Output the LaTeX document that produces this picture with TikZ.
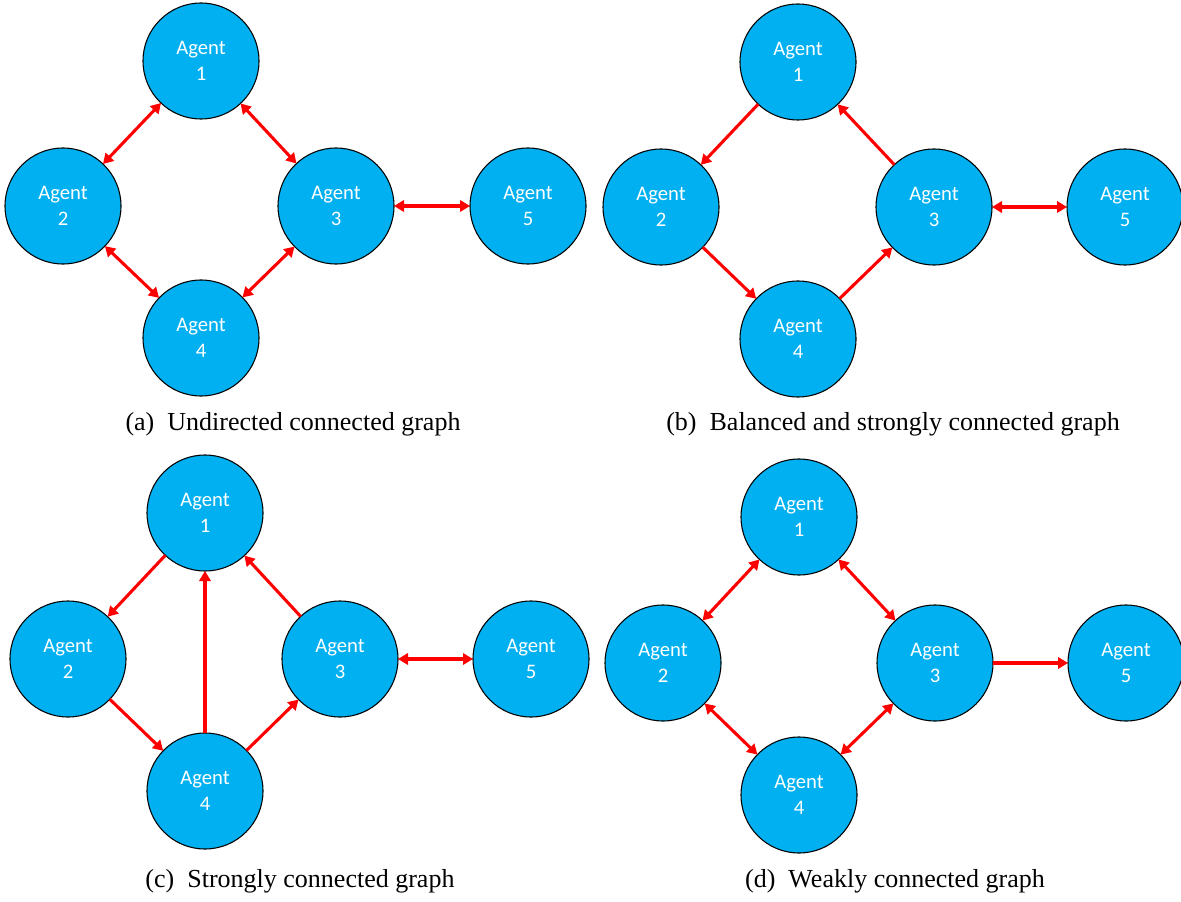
\documentclass[tikz,border=0pt]{standalone}
\usepackage{fontspec}
\setmainfont{Liberation Serif}
\newfontfamily\agentfont{Carlito}
\usetikzlibrary{arrows.meta}
\definecolor{agentblue}{HTML}{00B0F0}
\definecolor{edgered}{HTML}{FF0000}
\tikzset{
  agent/.style={circle,draw=black,line width=0.8pt,fill=agentblue,minimum size=87pt,inner sep=0pt,outer sep=0pt,
    text=white,font=\agentfont\fontsize{15.5pt}{19pt}\selectfont,align=center},
  edge/.style={draw=edgered,line width=2.3pt},
  one/.style={edge,-{Triangle[length=7.5pt,width=8.5pt]}},
  two/.style={edge,{Triangle[length=7.5pt,width=8.5pt]}-{Triangle[length=7.5pt,width=8.5pt]}},
  captext/.style={font=\fontsize{19.5pt}{22pt}\selectfont,inner sep=0pt}
}
\begin{document}
\begin{tikzpicture}[x=0.75pt,y=-0.75pt]
\useasboundingbox (0,0) rectangle (1181,902);
% panel a
\node[agent] (a1) at (201,61) {Agent\\1};
\node[agent] (a2) at (63,206) {Agent\\2};
\node[agent] (a3) at (336,206) {Agent\\3};
\node[agent] (a4) at (201,338) {Agent\\4};
\node[agent] (a5) at (528,206) {Agent\\5};
\draw[two] (a1) -- (a2);
\draw[two] (a1) -- (a3);
\draw[two] (a2) -- (a4);
\draw[two] (a3) -- (a4);
\draw[two] (a3) -- (a5);
\node[captext] (ca) at (293,424) {(a)\hspace{0.5em}Undirected connected graph};
% panel b
\node[agent] (b1) at (798,62) {Agent\\1};
\node[agent] (b2) at (661,207) {Agent\\2};
\node[agent] (b3) at (934,207) {Agent\\3};
\node[agent] (b4) at (798,339) {Agent\\4};
\node[agent] (b5) at (1125,207) {Agent\\5};
\draw[one] (b1) -- (b2);
\draw[one] (b2) -- (b4);
\draw[one] (b4) -- (b3);
\draw[one] (b3) -- (b1);
\draw[two] (b3) -- (b5);
\node[captext] (cb) at (893,424) {(b)\hspace{0.5em}Balanced and strongly connected graph};
% panel c
\node[agent] (c1) at (205,513) {Agent\\1};
\node[agent] (c2) at (68,659) {Agent\\2};
\node[agent] (c3) at (340,659) {Agent\\3};
\node[agent] (c4) at (205,791) {Agent\\4};
\node[agent] (c5) at (531,659) {Agent\\5};
\draw[one] (c1) -- (c2);
\draw[one] (c2) -- (c4);
\draw[one] (c4) -- (c3);
\draw[one] (c3) -- (c1);
\draw[one] (c4) -- (c1);
\draw[two] (c3) -- (c5);
\node[captext] (cc) at (300,881) {(c)\hspace{0.5em}Strongly connected graph};
% panel d
\node[agent] (d1) at (799,517) {Agent\\1};
\node[agent] (d2) at (663,663) {Agent\\2};
\node[agent] (d3) at (935,663) {Agent\\3};
\node[agent] (d4) at (799,795) {Agent\\4};
\node[agent] (d5) at (1126,663) {Agent\\5};
\draw[two] (d1) -- (d2);
\draw[two] (d1) -- (d3);
\draw[two] (d2) -- (d4);
\draw[two] (d3) -- (d4);
\draw[one] (d3) -- (d5);
\node[captext] (cd) at (895,881) {(d)\hspace{0.5em}Weakly connected graph};
\end{tikzpicture}
\end{document}
